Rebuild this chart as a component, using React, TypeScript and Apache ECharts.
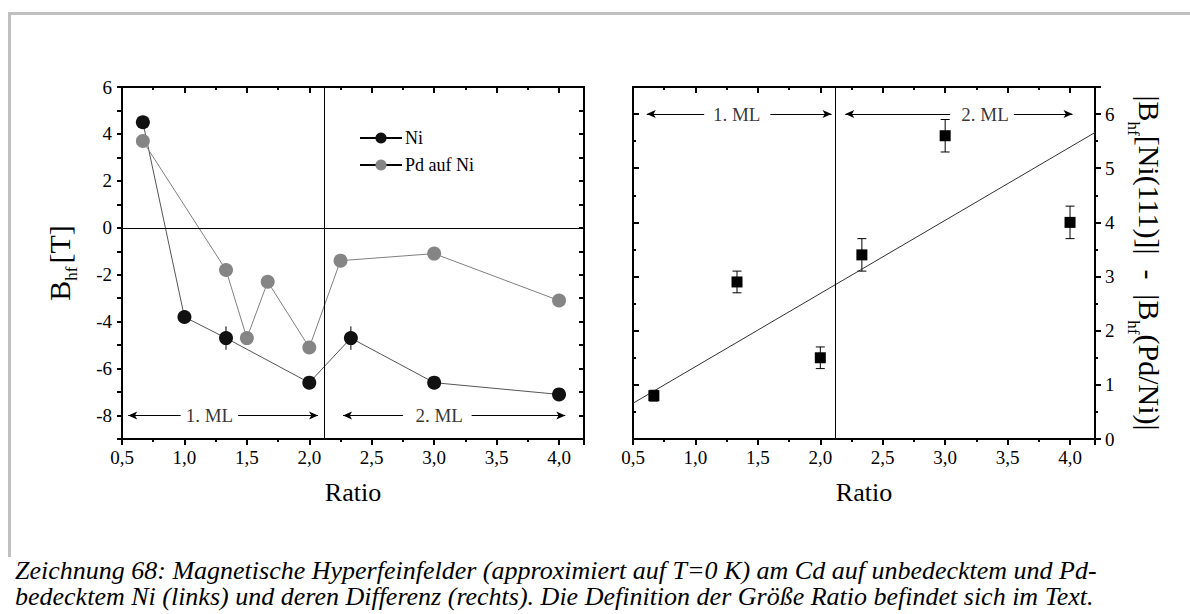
import React, { useEffect, useRef } from 'react';
import * as echarts from 'echarts';

// ---- data ----
const niRatio = [0.667, 1.0, 1.333, 2.0, 2.333, 3.0, 4.0];
const niField = [4.5, -3.8, -4.7, -6.6, -4.7, -6.6, -7.1];
const niError = [0, 0, 0.5, 0, 0.5, 0, 0];

const pdRatio = [0.667, 1.333, 1.5, 1.667, 2.0, 2.25, 3.0, 4.0];
const pdField = [3.7, -1.8, -4.7, -2.3, -5.1, -1.4, -1.1, -3.1];

const diffRatio = [0.667, 1.333, 2.0, 2.333, 3.0, 4.0];
const diffField = [0.8, 2.9, 1.5, 3.4, 5.6, 4.0];
const diffError = [0.1, 0.2, 0.2, 0.3, 0.3, 0.3];

const fitRatio = [0.5, 4.2];
const fitField = [0.66, 5.66];

const boundaryRatio = 2.12;

// arrow annotations: [from, to, arrow end]
const leftArrowLevel = -8;
const leftArrowSegments: [number, number, string][] = [
  [0.55, 0.97, 'start'],
  [1.43, 2.07, 'end'],
  [2.27, 2.75, 'start'],
  [3.3, 4.05, 'end'],
];
const leftArrowLabels: [string, number][] = [
  ['1. ML', 1.2],
  ['2. ML', 3.04],
];
const rightArrowLevel = 6;
const rightArrowSegments: [number, number, string][] = [
  [0.61, 1.07, 'start'],
  [1.6, 2.09, 'end'],
  [2.2, 3.04, 'start'],
  [3.55, 4.02, 'end'],
];
const rightArrowLabels: [string, number][] = [
  ['1. ML', 1.33],
  ['2. ML', 3.32],
];

const captionLines = [
  'Zeichnung 68: Magnetische Hyperfeinfelder (approximiert auf T=0 K) am Cd auf unbedecktem und Pd-',
  'bedecktem Ni (links) und deren Differenz (rechts). Die Definition der Größe Ratio befindet sich im Text.',
];

const SERIF = 'serif';

const ratioLabel = (v: number) => {
  const twice = v * 2;
  if (Math.abs(twice - Math.round(twice)) < 1e-6 && v <= 4.0001) {
    return v.toFixed(1).replace('.', ',');
  }
  return '';
};
const evenLabel = (v: number) => (Math.abs(v % 2) < 1e-6 ? String(Math.round(v)) : '');
const intLabel = (v: number) => (Math.abs(v - Math.round(v)) < 1e-6 ? String(Math.round(v)) : '');

function makeXAxis(grid: number, bottom: boolean) {
  return {
    gridIndex: grid,
    type: 'value',
    min: 0.5,
    max: 4.2,
    interval: 0.5,
    position: bottom ? 'bottom' : 'top',
    axisLine: { show: true, onZero: false, lineStyle: { color: '#000', width: 2 } },
    axisTick: { show: true, inside: !bottom, length: 6, lineStyle: { color: '#000', width: 2 } },
    minorTick: { show: true, splitNumber: 2, length: 3, lineStyle: { color: '#000', width: 2 } },
    splitLine: { show: false },
    minorSplitLine: { show: false },
    axisLabel: {
      show: bottom,
      margin: 9,
      fontFamily: SERIF,
      fontSize: 19,
      color: '#000',
      formatter: ratioLabel,
    },
    name: bottom ? 'Ratio' : '',
    nameLocation: 'middle',
    nameGap: 40,
    nameTextStyle: { fontFamily: SERIF, fontSize: 26, color: '#000' },
  };
}

function makeErrorSeries(x: number[], y: number[], e: number[], xi: number, yi: number, cap: number) {
  const data: number[][] = [];
  x.forEach((xv, i) => {
    if (e[i] > 0) data.push([xv, y[i] - e[i], y[i] + e[i]]);
  });
  return {
    type: 'custom',
    xAxisIndex: xi,
    yAxisIndex: yi,
    z: 2,
    silent: true,
    encode: { x: 0, y: [1, 2] },
    data,
    renderItem: (params: any, api: any) => {
      const xv = api.value(0);
      const lo = api.coord([xv, api.value(1)]);
      const hi = api.coord([xv, api.value(2)]);
      const style = { stroke: '#000', lineWidth: 1 };
      const children: any[] = [
        { type: 'line', shape: { x1: lo[0], y1: lo[1], x2: hi[0], y2: hi[1] }, style },
      ];
      if (cap > 0) {
        children.push({ type: 'line', shape: { x1: lo[0] - cap, y1: lo[1], x2: lo[0] + cap, y2: lo[1] }, style });
        children.push({ type: 'line', shape: { x1: hi[0] - cap, y1: hi[1], x2: hi[0] + cap, y2: hi[1] }, style });
      }
      return { type: 'group', children };
    },
  };
}

function arrowData(segs: [number, number, string][], level: number) {
  return segs.map(([a, b, end]) => [
    { coord: [a, level], symbol: end === 'start' ? 'arrow' : 'none' },
    { coord: [b, level], symbol: end === 'end' ? 'arrow' : 'none' },
  ]);
}

function labelSeries(labels: [string, number][], level: number, xi: number, yi: number) {
  return {
    type: 'scatter',
    xAxisIndex: xi,
    yAxisIndex: yi,
    silent: true,
    symbolSize: 1,
    itemStyle: { color: 'transparent' },
    data: labels.map(([t, x]) => ({ name: t, value: [x, level] })),
    label: {
      show: true,
      position: 'inside',
      formatter: '{b}',
      fontFamily: SERIF,
      fontSize: 19,
      color: '#000',
    },
  };
}

export default function App() {
  const ref = useRef<HTMLDivElement>(null);
  useEffect(() => {
    if (!ref.current) return;
    const chart = echarts.init(ref.current, undefined, { renderer: 'svg' });
    const markLineBase = {
      silent: true,
      animation: false,
      symbol: 'none',
      symbolSize: [6, 9],
      label: { show: false },
      emphasis: { disabled: true },
      lineStyle: { color: '#000', width: 1, type: 'solid' },
    };
    const option: any = {
      animation: false,
      backgroundColor: '#fff',
      textStyle: { fontFamily: SERIF, color: '#000' },
      grid: [
        { left: 122, top: 87, width: 462, height: 352 },
        { left: 633, top: 87, width: 462, height: 352 },
      ],
      xAxis: [makeXAxis(0, true), makeXAxis(0, false), makeXAxis(1, true), makeXAxis(1, false)],
      yAxis: [
        {
          gridIndex: 0,
          type: 'value',
          min: -9,
          max: 6,
          interval: 1,
          position: 'left',
          axisLine: { show: true, onZero: false, lineStyle: { color: '#000', width: 2 } },
          axisTick: { show: true, inside: false, length: 5, lineStyle: { color: '#000', width: 2 } },
          splitLine: { show: false },
          axisLabel: { margin: 10, fontFamily: SERIF, fontSize: 19, color: '#000', formatter: evenLabel },
          name: '{b|B}{s|hf}{b|[T]}',
          nameLocation: 'middle',
          nameRotate: 90,
          nameGap: 42,
          nameTextStyle: {
            fontFamily: SERIF,
            rich: {
              b: { fontFamily: SERIF, fontSize: 30, color: '#000', verticalAlign: 'bottom', padding: [0, 0, 6, 0] },
              s: { fontFamily: SERIF, fontSize: 17, color: '#000', verticalAlign: 'bottom', padding: [0, 3, 0, 0] },
            },
          },
        },
        {
          gridIndex: 0,
          type: 'value',
          min: -9,
          max: 6,
          interval: 1,
          position: 'right',
          axisLine: { show: true, onZero: false, lineStyle: { color: '#000', width: 2 } },
          axisTick: { show: true, inside: true, length: 5, lineStyle: { color: '#000', width: 2 } },
          splitLine: { show: false },
          axisLabel: { show: false },
        },
        {
          gridIndex: 1,
          type: 'value',
          min: 0,
          max: 6.5,
          interval: 1,
          position: 'left',
          axisLine: { show: true, onZero: false, lineStyle: { color: '#000', width: 2 } },
          axisTick: { show: true, inside: true, length: 6, lineStyle: { color: '#000', width: 2 } },
          minorTick: { show: true, splitNumber: 2, length: 3, lineStyle: { color: '#000', width: 2 } },
          splitLine: { show: false },
          minorSplitLine: { show: false },
          axisLabel: { show: false },
        },
        {
          gridIndex: 1,
          type: 'value',
          min: 0,
          max: 6.5,
          interval: 1,
          position: 'right',
          axisLine: { show: true, onZero: false, lineStyle: { color: '#000', width: 2 } },
          axisTick: { show: true, inside: false, length: 6, lineStyle: { color: '#000', width: 2 } },
          minorTick: { show: true, splitNumber: 2, length: 3, lineStyle: { color: '#000', width: 2 } },
          splitLine: { show: false },
          minorSplitLine: { show: false },
          axisLabel: { margin: 10, fontFamily: SERIF, fontSize: 19, color: '#000', formatter: intLabel },
          name: '{b||B}{s|hf}{b|[Ni(111)]|  -  |B}{s|hf}{b|(Pd/Ni)|}',
          nameLocation: 'middle',
          nameRotate: -90,
          nameGap: 30,
          nameTextStyle: {
            fontFamily: SERIF,
            rich: {
              b: { fontFamily: SERIF, fontSize: 30, color: '#000', verticalAlign: 'bottom', padding: [0, 0, 9, 0] },
              s: { fontFamily: SERIF, fontSize: 17, color: '#000', verticalAlign: 'bottom' },
            },
          },
        },
      ],
      legend: {
        left: 354,
        top: 124,
        orient: 'vertical',
        itemWidth: 42,
        itemHeight: 14,
        itemGap: 9,
        selectedMode: false,
        textStyle: { fontFamily: SERIF, fontSize: 18, color: '#000', padding: [0, 0, 0, -2] },
        data: [
          { name: 'Ni', lineStyle: { color: '#000' } },
          { name: 'Pd auf Ni', lineStyle: { color: '#000' } },
        ],
      },
      series: [
        {
          name: 'Ni',
          type: 'line',
          xAxisIndex: 0,
          yAxisIndex: 0,
          z: 3,
          symbol: 'circle',
          symbolSize: 14,
          itemStyle: { color: '#111' },
          lineStyle: { color: '#555', width: 1 },
          data: niRatio.map((x, i) => [x, niField[i]]),
          markLine: {
            ...markLineBase,
            data: [{ xAxis: boundaryRatio }, { yAxis: 0 }, ...arrowData(leftArrowSegments, leftArrowLevel)],
          },
        },
        makeErrorSeries(niRatio, niField, niError, 0, 0, 0),
        {
          name: 'Pd auf Ni',
          type: 'line',
          xAxisIndex: 0,
          yAxisIndex: 0,
          z: 3,
          symbol: 'circle',
          symbolSize: 14,
          itemStyle: { color: '#858585' },
          lineStyle: { color: '#808080', width: 1 },
          data: pdRatio.map((x, i) => [x, pdField[i]]),
        },
        labelSeries(leftArrowLabels, leftArrowLevel, 0, 0),
        {
          name: 'Fit',
          type: 'line',
          xAxisIndex: 2,
          yAxisIndex: 3,
          symbol: 'none',
          lineStyle: { color: '#333', width: 1 },
          data: fitRatio.map((x, i) => [x, fitField[i]]),
          markLine: {
            ...markLineBase,
            data: [{ xAxis: boundaryRatio }, ...arrowData(rightArrowSegments, rightArrowLevel)],
          },
        },
        makeErrorSeries(diffRatio, diffField, diffError, 2, 3, 4.5),
        {
          name: 'Differenz',
          type: 'scatter',
          xAxisIndex: 2,
          yAxisIndex: 3,
          z: 3,
          symbol: 'rect',
          symbolSize: 11,
          itemStyle: { color: '#000', opacity: 1 },
          data: diffRatio.map((x, i) => [x, diffField[i]]),
        },
        labelSeries(rightArrowLabels, rightArrowLevel, 2, 3),
      ],
      graphic: [
        { type: 'line', silent: true, shape: { x1: 8, y1: 13.5, x2: 1190, y2: 13.5 }, style: { stroke: '#c0c0c0', lineWidth: 3 } },
        { type: 'line', silent: true, shape: { x1: 9.5, y1: 12, x2: 9.5, y2: 557 }, style: { stroke: '#c0c0c0', lineWidth: 3 } },
        {
          type: 'text',
          x: 15,
          y: 570,
          silent: true,
          style: { text: captionLines[0], fontFamily: SERIF, fontStyle: 'italic', fontSize: 26, fill: '#000', verticalAlign: 'middle' },
        },
        {
          type: 'text',
          x: 15,
          y: 596,
          silent: true,
          style: { text: captionLines[1], fontFamily: SERIF, fontStyle: 'italic', fontSize: 26, fill: '#000', verticalAlign: 'middle' },
        },
      ],
    };
    chart.setOption(option);
    return () => chart.dispose();
  }, []);
  return <div ref={ref} style={{ position: 'absolute', left: 0, top: 0, width: 1190, height: 614, background: '#fff' }} />;
}
